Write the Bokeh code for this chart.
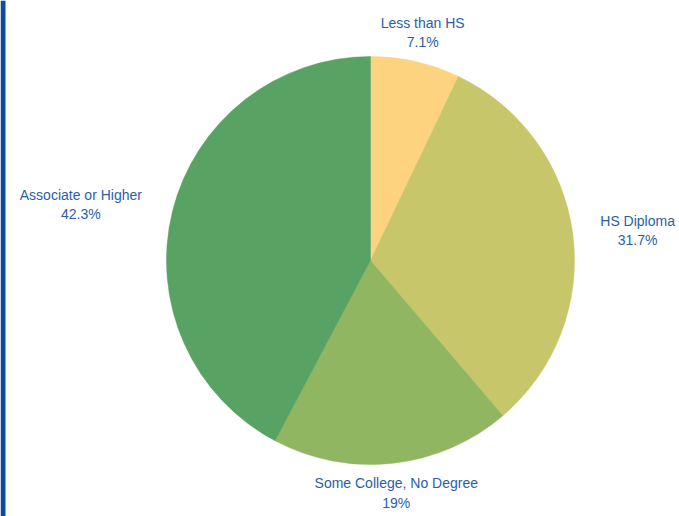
import math
from bokeh.plotting import figure
from bokeh.models import Range1d, ColumnDataSource
from bokeh.core.properties import value
from bokeh.embed import file_html
from bokeh.resources import INLINE

categories = ["Less than HS", "HS Diploma", "Some College, No Degree", "Associate or Higher"]
shares = [7.1, 31.7, 19.0, 42.3]
pct_labels = ["7.1%", "31.7%", "19%", "42.3%"]
colors = ["#fed380", "#c8c66b", "#91b662", "#58a363"]

W, H = 679, 516
cx, cy, r = 370, H - 260, 204
R_lab = 234

total = sum(shares)
starts, ends, lx, ly, texts = [], [], [], [], []
cum = 0.0
for cat, s, pl in zip(categories, shares, pct_labels):
    a0 = math.pi / 2 - 2 * math.pi * cum / total
    a1 = math.pi / 2 - 2 * math.pi * (cum + s) / total
    starts.append(a0)
    ends.append(a1)
    mid = 2 * math.pi * (cum + s / 2) / total  # clockwise from top
    sn, cs = math.sin(mid), math.cos(mid)
    w = 7.2 * max(len(cat), len(pl))
    lx.append(cx + sn * (R_lab + sn * sn * w / 2))
    ly.append(cy + cs * R_lab)
    texts.append(cat + "\n" + pl)
    cum += s

src = ColumnDataSource(dict(start=starts, end=ends, color=colors, lx=lx, ly=ly, text=texts))

p = figure(width=W, height=H, output_backend="svg", toolbar_location=None,
           x_range=Range1d(0, W), y_range=Range1d(0, H), min_border=0)
p.axis.visible = False
p.grid.visible = False
p.outline_line_color = None
p.background_fill_color = "white"

p.wedge(x=cx, y=cy, radius=r, start_angle="start", end_angle="end", direction="clock",
        fill_color="color", line_color="color", line_width=0.5, source=src)

p.text(x="lx", y="ly", text="text", source=src, text_align="center", text_baseline="middle",
       text_font=value("Liberation Sans"), text_font_size="14px", text_color="#2b5ea7",
       text_line_height=1.2)

p.quad(left=0, right=5, bottom=0, top=H, fill_color="#0c4d9b", line_color=None)

open("out.html", "w").write(file_html(p, INLINE))
